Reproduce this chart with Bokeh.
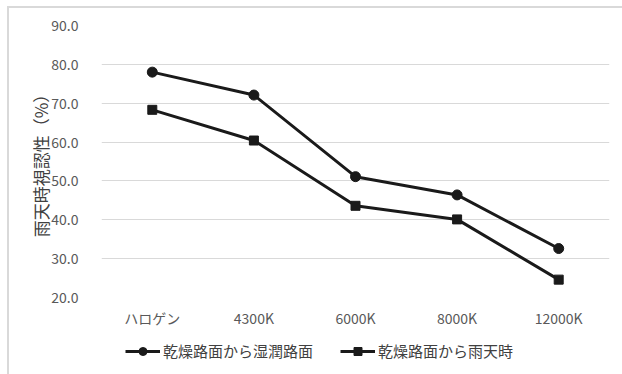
from bokeh.plotting import figure
from bokeh.layouts import column
from bokeh.models import (ColumnDataSource, Legend, LegendItem, NumeralTickFormatter,
                          FixedTicker, Range1d)
from bokeh.embed import file_html
from bokeh.resources import INLINE

# Colour temperature categories and visibility (%) per condition
categories = ["ハロゲン", "4300K", "6000K", "8000K", "12000K"]
dry_to_wet = [78.0, 72.1, 51.1, 46.4, 32.6]
dry_to_rain = [68.3, 60.4, 43.6, 40.1, 24.6]
y_ticks = [20, 30, 40, 50, 60, 70, 80, 90]
series_names = ["乾燥路面から湿潤路面", "乾燥路面から雨天時"]

FONT = "Noto Sans CJK JP"
GRAY = "#d9d9d9"
LINE = "#1a1a1a"

src = ColumnDataSource(dict(cat=categories, wet=dry_to_wet, rain=dry_to_rain))


def draw_series(fig):
    """Both series as thick black lines with circle / square markers."""
    a = fig.line("cat", "wet", source=src, line_color=LINE, line_width=3)
    b = fig.scatter("cat", "wet", source=src, marker="circle", size=10,
                    fill_color=LINE, line_color=LINE)
    c = fig.line("cat", "rain", source=src, line_color=LINE, line_width=3)
    d = fig.scatter("cat", "rain", source=src, marker="square", size=9,
                    fill_color=LINE, line_color=LINE)
    return a, b, c, d


# ---- main chart ----
p = figure(x_range=categories, y_range=Range1d(20, 90),
           width=622, height=334, output_backend="svg", toolbar_location=None,
           min_border_left=101, min_border_right=13, min_border_top=25,
           min_border_bottom=37)
p.x_range.range_padding = 0
p.background_fill_color = "white"
p.border_fill_alpha = 0
p.outline_line_color = None

p.yaxis.ticker = FixedTicker(ticks=y_ticks)
p.yaxis.formatter = NumeralTickFormatter(format="0.0")
for ax in (p.xaxis[0], p.yaxis[0]):
    ax.axis_line_color = None
    ax.major_tick_line_color = None
    ax.minor_tick_line_color = None
    ax.major_label_text_color = "#595959"
    ax.major_label_text_font = FONT
    ax.major_label_text_font_size = "14px"
p.yaxis.major_label_standoff = 17
p.xaxis.major_label_standoff = 4
p.yaxis.axis_label = "雨天時視認性（%）"
p.yaxis.axis_label_text_font = FONT
p.yaxis.axis_label_text_font_size = "17px"
p.yaxis.axis_label_text_font_style = "normal"
p.yaxis.axis_label_text_color = "#404040"
p.yaxis.axis_label_standoff = -5

p.xgrid.grid_line_color = None
p.ygrid.grid_line_color = GRAY
p.ygrid.grid_line_width = 1

draw_series(p)

# ---- legend strip underneath (same renderers, y window kept off the data) ----
lg = figure(x_range=categories, y_range=Range1d(-2, -1),
            width=622, height=40, output_backend="svg", toolbar_location=None,
            min_border_left=0, min_border_right=0,
            min_border_top=0, min_border_bottom=0)
lg.axis.visible = False
lg.grid.visible = False
lg.outline_line_color = None
lg.background_fill_alpha = 0
lg.border_fill_alpha = 0

k1, c1, k2, c2 = draw_series(lg)

legend = Legend(items=[LegendItem(label=series_names[0], renderers=[k1, c1]),
                       LegendItem(label=series_names[1], renderers=[k2, c2])],
                orientation="horizontal", location=(24, 13),
                padding=0, margin=0, spacing=27, glyph_width=35, glyph_height=20,
                label_standoff=3, border_line_color=None, background_fill_alpha=0,
                label_text_font=FONT, label_text_font_size="15px",
                label_text_color="#404040")
lg.add_layout(legend, "center")

# light frame around the chart area, painted on the wrapper behind the canvases
page = column(p, lg, width=622, height=374, spacing=0, styles={
    "background": (f"linear-gradient({GRAY},{GRAY}) 7px 6px / 2px 100% no-repeat, "
                   f"linear-gradient({GRAY},{GRAY}) 7px 6px / 100% 2px no-repeat, white"),
})

open("out.html", "w").write(file_html(page, INLINE))
